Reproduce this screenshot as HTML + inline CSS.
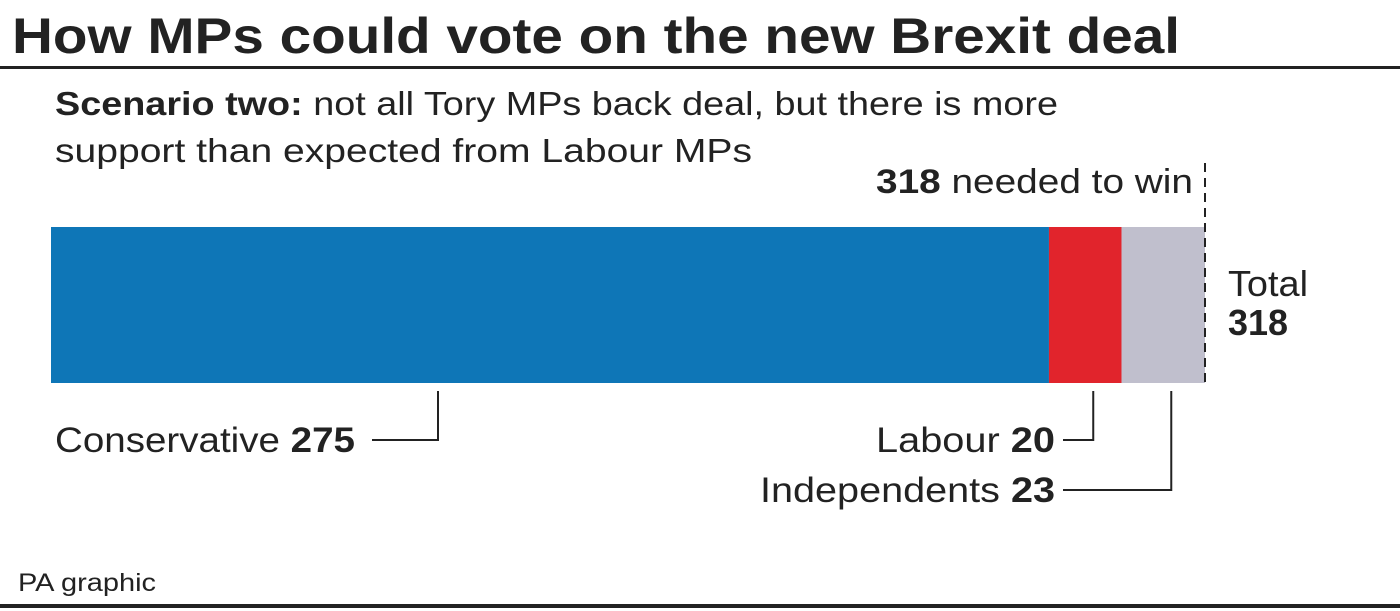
<!DOCTYPE html>
<html><head><meta charset="utf-8"><style>
body{margin:0;width:1400px;height:611px;background:#fff;overflow:hidden;font-family:"Liberation Sans",sans-serif;color:#222;}
svg{display:block}
text{font-family:"Liberation Sans",sans-serif;fill:#222}
</style></head><body>
<svg width="1400" height="611">
<text x="12" y="53" font-size="50" font-weight="bold" textLength="1168" lengthAdjust="spacingAndGlyphs">How MPs could vote on the new Brexit deal</text>
<rect x="0" y="66" width="1400" height="3" fill="#222"/>
<text x="55" y="115" font-size="33" textLength="1003" lengthAdjust="spacingAndGlyphs"><tspan font-weight="bold">Scenario two:</tspan> not all Tory MPs back deal, but there is more</text>
<text x="55" y="162" font-size="33" textLength="697" lengthAdjust="spacingAndGlyphs">support than expected from Labour MPs</text>
<g id="bars"></g>
<text x="876" y="193" font-size="34" textLength="317" lengthAdjust="spacingAndGlyphs"><tspan font-weight="bold">318</tspan> needed to win</text>
<text x="1228" y="296" font-size="36" textLength="80" lengthAdjust="spacingAndGlyphs">Total</text>
<text x="1228" y="335" font-size="36" font-weight="bold" id="totalVal"></text>
<rect x="0" y="604" width="1400" height="4" fill="#222"/>
<text x="18" y="591" font-size="25" textLength="138" lengthAdjust="spacingAndGlyphs">PA graphic</text>
</svg>
<script>
const parties = ["Conservative","Labour","Independents"];
const votes = [275, 20, 23];
const needed = [318];
const colors = ["#0e76b7","#e1242c","#c0bfcd"];
const x0=51, x1=1205, maxV=318;
const x = v => x0 + v*(x1-x0)/maxV;
const barTop=227, barBot=383;
const ns="http://www.w3.org/2000/svg";
const g=document.getElementById('bars');
function mk(tag,attrs){const e=document.createElementNS(ns,tag);for(const k in attrs)e.setAttribute(k,attrs[k]);return e;}
let cum=0;
const total=votes.reduce((a,b)=>a+b,0);
document.getElementById('totalVal').textContent=total;
const labelX=[55,876,760];
const labelW=[300,179,295];
votes.forEach((v,i)=>{
  const r=mk('rect',{x:x(cum),y:barTop,width:x(cum+v)-x(cum),height:barBot-barTop,fill:colors[i]});
  
  
  g.appendChild(r);
  const t=mk('text',{x:labelX[i],y:[452,452,502][i],'font-size':35,textLength:labelW[i],lengthAdjust:'spacingAndGlyphs'});
  t.innerHTML=parties[i]+' <tspan font-weight="bold">'+v+'</tspan>';
  
  
  g.appendChild(t);
  const lx = i===0 ? 438 : x(cum+v/2)+8;
  const hy = [440,440,490][i];
  const sx = i===0 ? 372 : 1063;
  const p=mk('path',{d:`M${sx},${hy} H${lx} V391`,fill:'none',stroke:'#222','stroke-width':2});
  
  
  g.appendChild(p);
  cum+=v;
});
const dl=mk('line',{x1:x(needed[0]),x2:x(needed[0]),y1:163,y2:barBot,stroke:'#222','stroke-width':2,'stroke-dasharray':'9,6'});


g.appendChild(dl);
</script>
</body></html>
